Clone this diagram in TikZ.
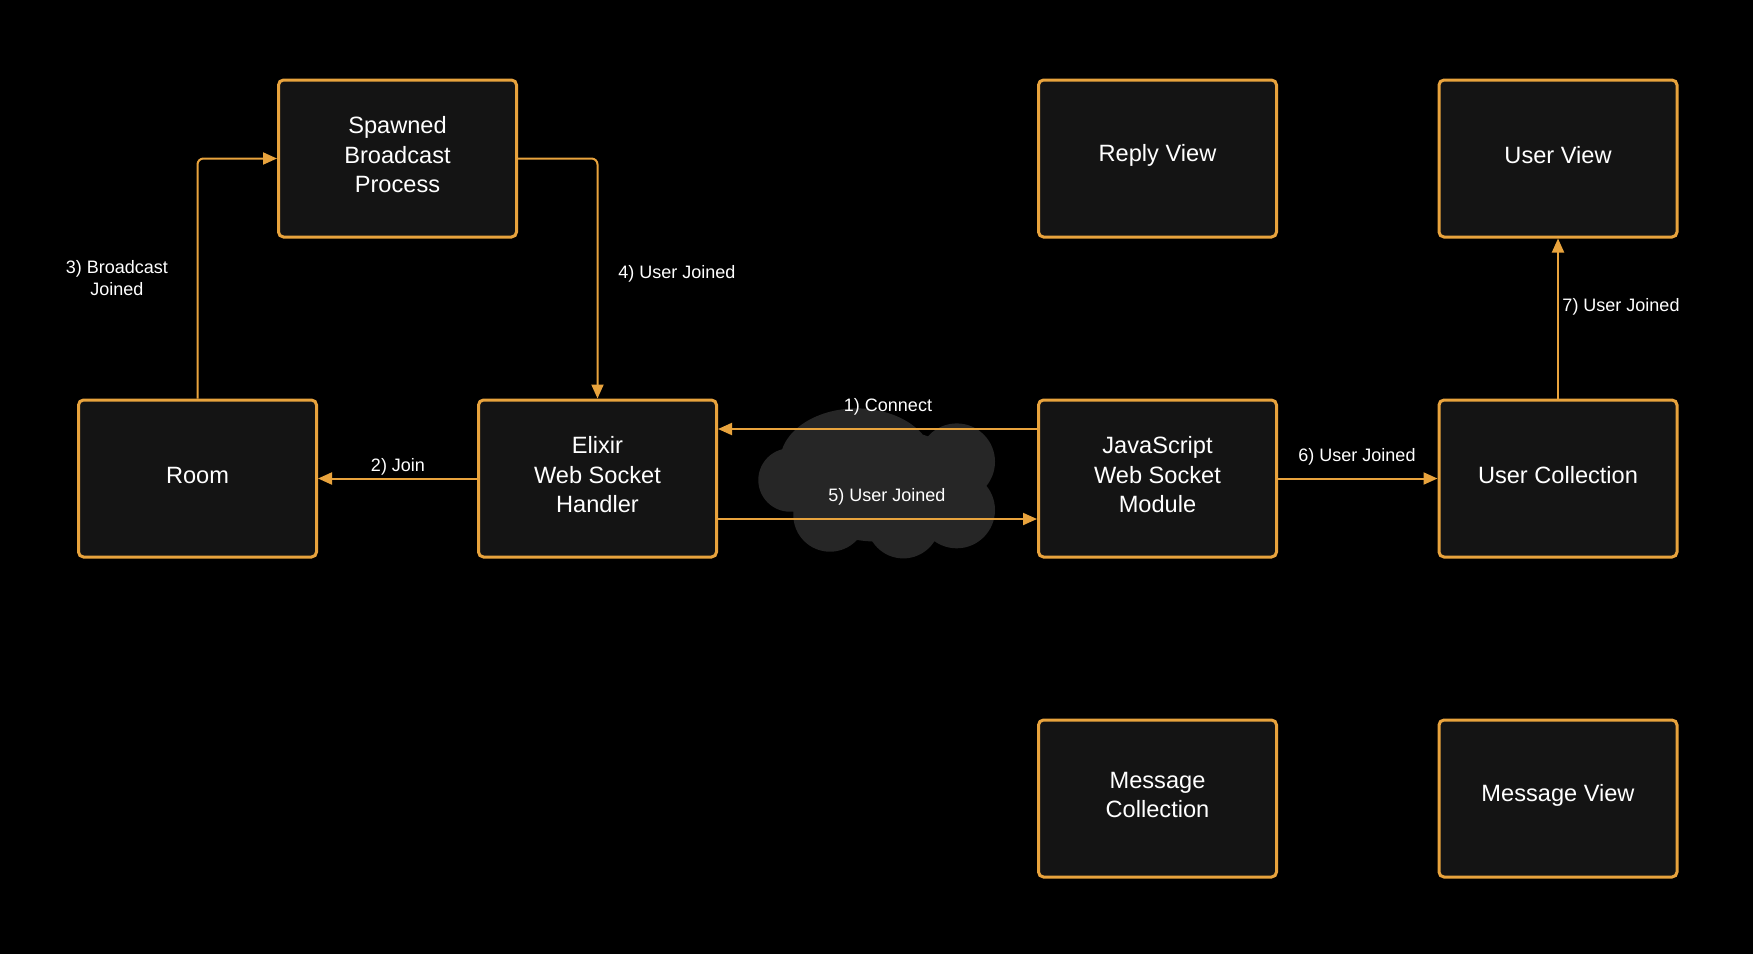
\documentclass[tikz,border=0pt]{standalone}
\usepackage{fontspec}
\setmainfont{Liberation Sans}
\usetikzlibrary{arrows.meta}
\definecolor{org}{HTML}{E8A33D}
\definecolor{boxfill}{HTML}{141414}
\definecolor{cloudc}{HTML}{262626}
\begin{document}
\begin{tikzpicture}[x=1pt,y=-1pt,
 box/.style={draw=org, line width=3pt, fill=boxfill, rounded corners=5pt, minimum width=238pt, minimum height=157pt, inner sep=0pt},
 boxtext/.style={text=white, align=center, inner sep=0pt, yshift=3.5pt, font=\fontsize{23.6}{29.5}\selectfont},
 conn/.style={draw=org, line width=2pt, -{Triangle[length=14pt,width=12pt]}, rounded corners=6pt},
 lbl/.style={text=white, font=\fontsize{18}{22}\selectfont, inner sep=0pt, align=center}]
\fill[black] (0,0) rectangle (1753,954);
\useasboundingbox (0,0) rectangle (1753,954);
% cloud
\fill[cloudc] (790,480) circle[radius=31.7]
  (856.7,461.7) ellipse[x radius=76.7, y radius=53.3]
  (956.7,461.7) circle[radius=38.3]
  (956.7,510) circle[radius=38.3]
  (903.3,521.7) circle[radius=36.7]
  (830,515) circle[radius=36.7]
  (880,485) ellipse[x radius=93.3, y radius=56.7];
% boxes
\node[box, label={[boxtext]center:Spawned\\Broadcast\\Process}] (spawn) at (397.5,158.5) {};
\node[box, label={[boxtext]center:Room}] (room) at (197.5,478.5) {};
\node[box, label={[boxtext]center:Elixir\\Web Socket\\Handler}] (elixir) at (597.5,478.5) {};
\node[box, label={[boxtext]center:JavaScript\\Web Socket\\Module}] (js) at (1157.5,478.5) {};
\node[box, label={[boxtext]center:User Collection}] (uc) at (1558,478.5) {};
\node[box, label={[boxtext]center:Reply View}] (reply) at (1157.5,158.5) {};
\node[box, label={[boxtext]center:User View}] (uview) at (1558,158.5) {};
\node[box, label={[boxtext]center:Message\\Collection}] (mcoll) at (1157.5,798.5) {};
\node[box, label={[boxtext]center:Message View}] (mview) at (1558,798.5) {};
% connectors
\draw[conn] (room.north) |- (spawn.west);
\draw[conn] (spawn.east) -| (elixir.north);
\draw[conn] (elixir.west) -- (room.east);
\draw[conn] ([yshift=49.5pt]js.west) -- ([yshift=49.5pt]elixir.east);
\draw[conn] ([yshift=-40.5pt]elixir.east) -- ([yshift=-40.5pt]js.west);
\draw[conn] (js.east) -- (uc.west);
\draw[conn] (uc.north) -- (uview.south);
% labels
\node[lbl] (l3) at (117,278) {3) Broadcast\\Joined};
\node[lbl] (l4) at (677,274) {4) User Joined};
\node[lbl] (l2) at (398,467) {2) Join};
\node[lbl] (l1) at (888,407) {1) Connect};
\node[lbl] (l5) at (887,497) {5) User Joined};
\node[lbl] (l6) at (1357,457) {6) User Joined};
\node[lbl] (l7) at (1621,307) {7) User Joined};
\end{tikzpicture}
\end{document}
